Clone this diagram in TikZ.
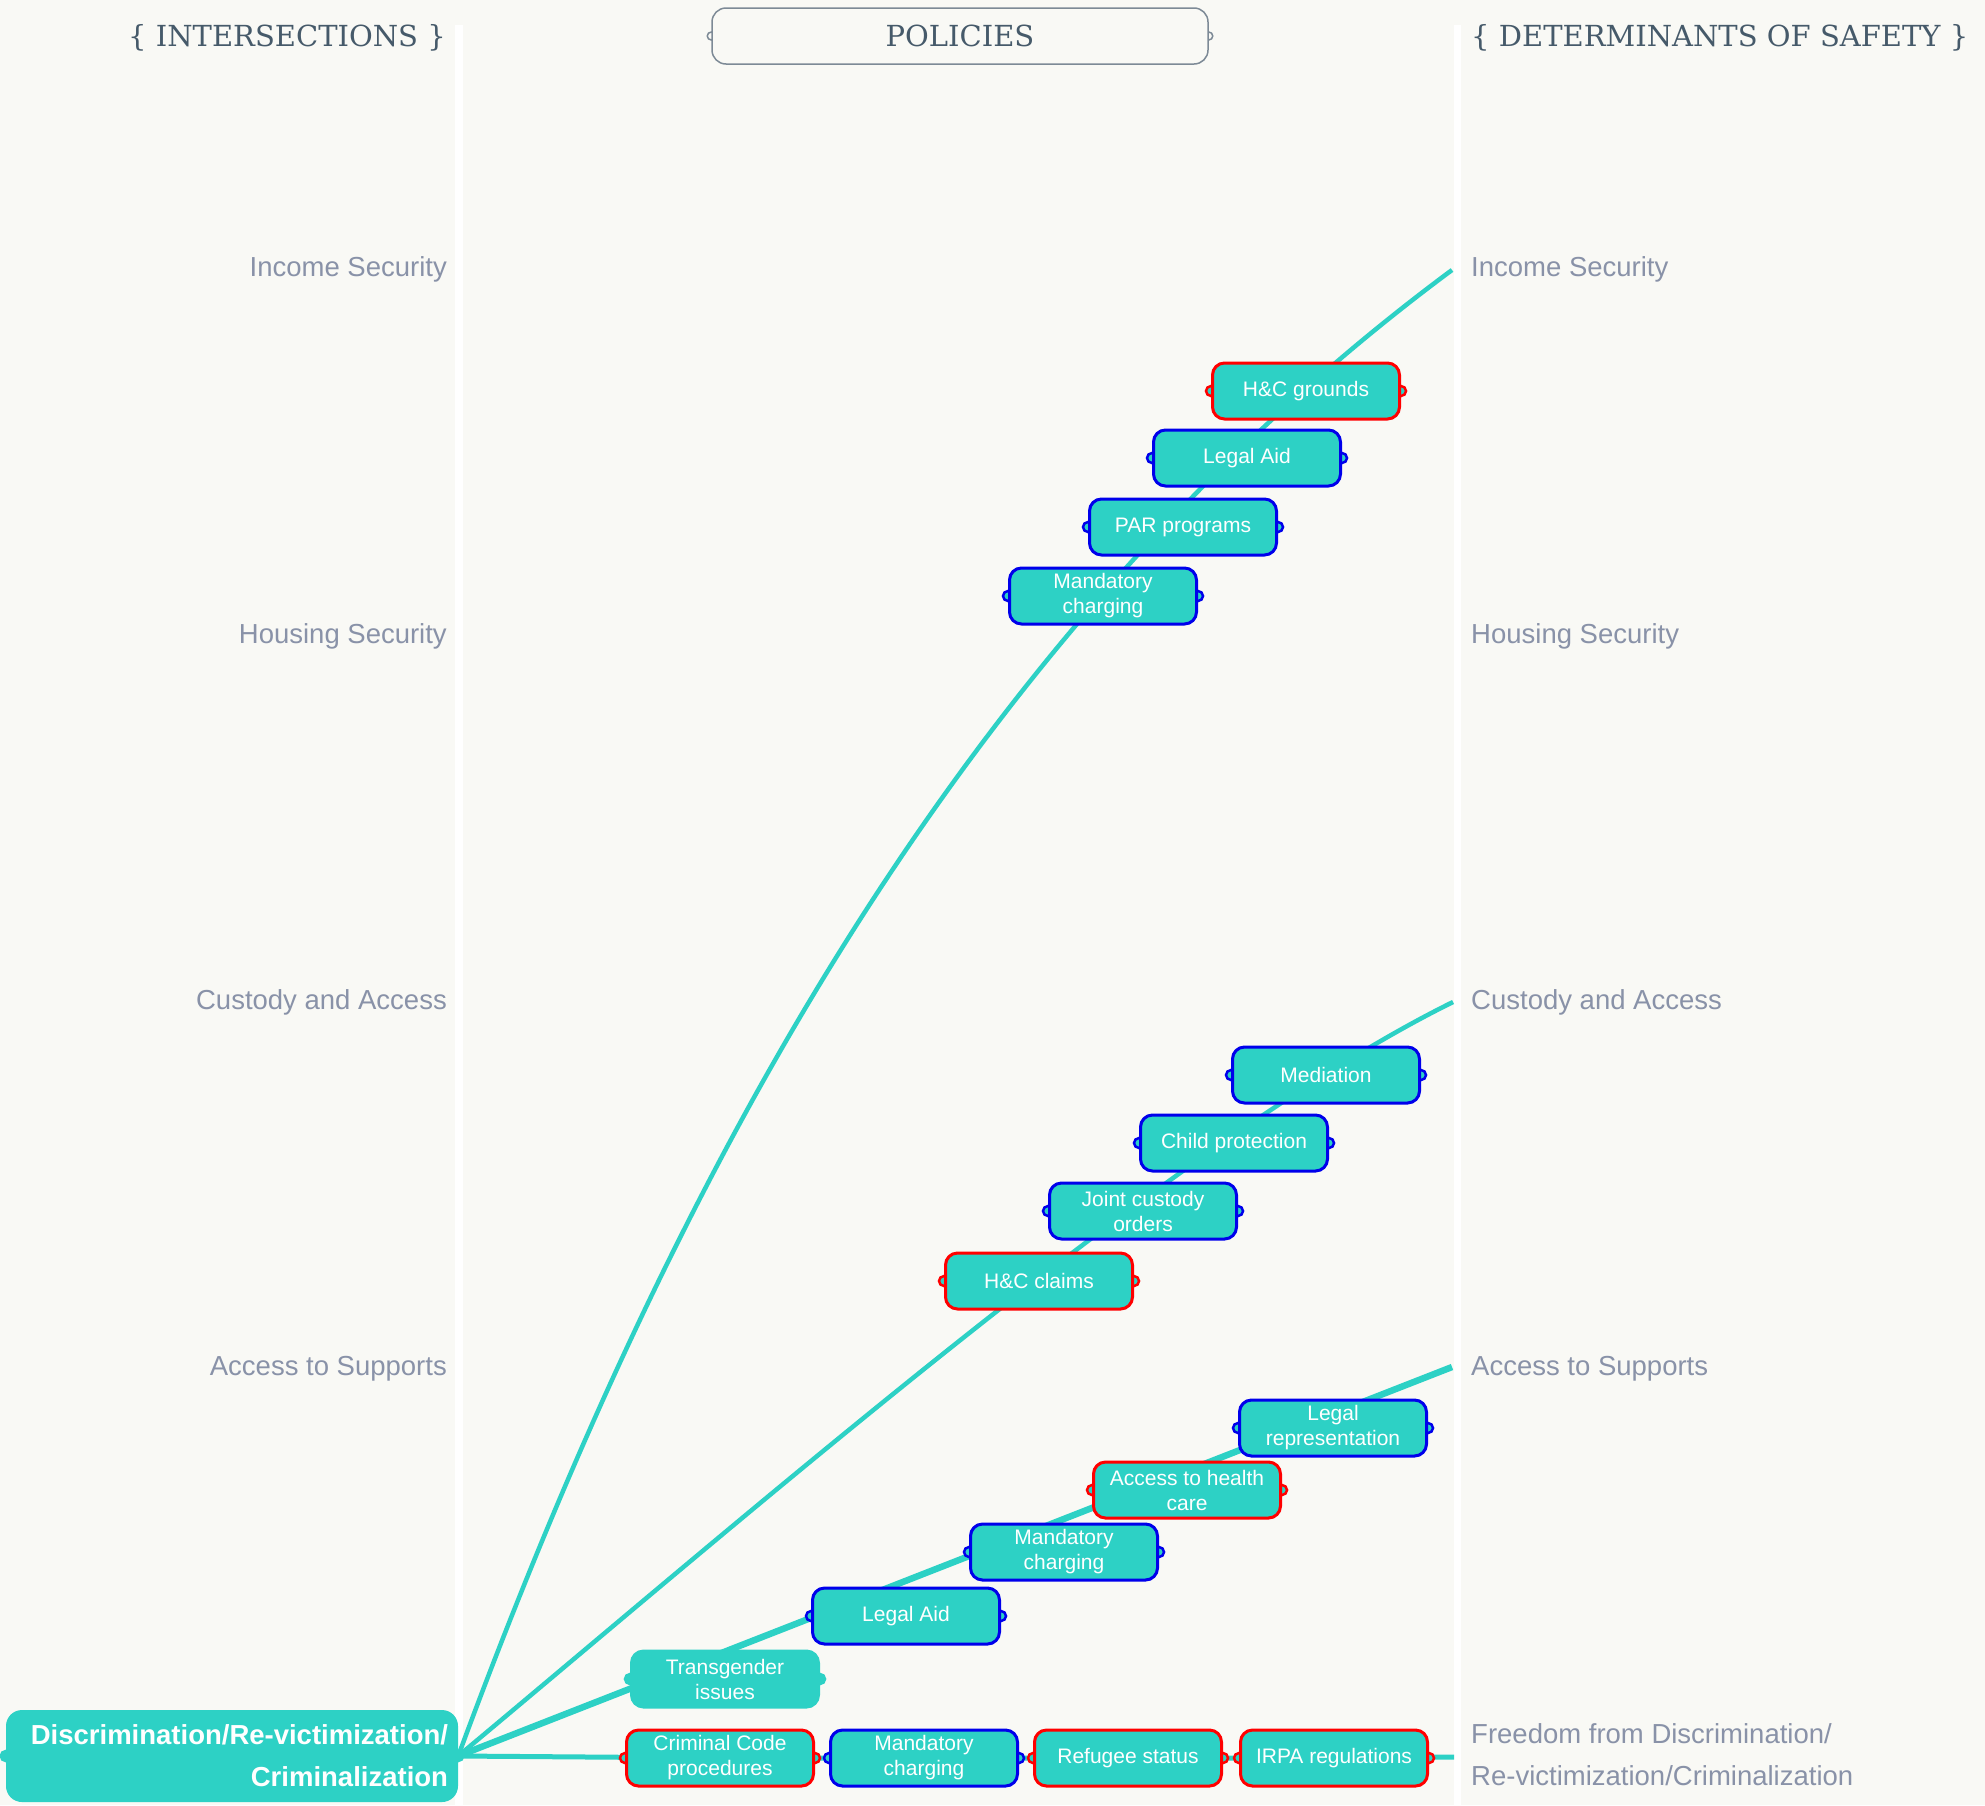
\documentclass[tikz,border=0pt]{standalone}
\usepackage{fontspec}
\setmainfont{Liberation Sans}
\newfontfamily\slabfont{DejaVu Serif}
\usepackage{tikz}

\definecolor{paper}{RGB}{249,249,245}
\definecolor{mapteal}{RGB}{45,209,197}
\definecolor{polred}{RGB}{255,0,0}
\definecolor{polblue}{RGB}{0,0,235}
\definecolor{lblgrey}{RGB}{137,146,168}
\definecolor{hdrslate}{RGB}{70,90,106}
\definecolor{framegrey}{RGB}{125,138,150}

\pgfdeclarelayer{bg}
\pgfsetlayers{bg,main}

\tikzset{
  pol/.style={draw=#1, line width=3pt, fill=mapteal, rounded corners=12pt,
    minimum width=187pt, minimum height=56pt, inner sep=0pt, align=center,
    text=white, font=\fontsize{21}{25}\selectfont},
  bump/.style={draw=#1, fill=mapteal, line width=2.5pt},
  branch/.style={draw=mapteal, line width=#1},
  lbl/.style={text=lblgrey, font=\fontsize{27.5}{42}\selectfont, inner sep=0pt},
  hdr/.style={text=hdrslate, font=\slabfont\fontsize{29}{35}\selectfont, inner sep=0pt}
}

\begin{document}
\begin{tikzpicture}[x=1pt,y=-1pt]
\useasboundingbox (0,0) rectangle (1985,1805);

% headers
\node[hdr,anchor=east] (hint) at (446,38) {\{ INTERSECTIONS \}};
\node[hdr,draw=framegrey,fill=paper,line width=1.5pt,rounded corners=14pt,
  minimum width=496pt,minimum height=56pt] (hpol) at (960,36) {POLICIES};
\node[hdr,anchor=west] (hdet) at (1471,38) {\{ DETERMINANTS OF SAFETY \}};

% intersections
\node[lbl,anchor=east] (lInc) at (447,269) {Income Security};
\node[lbl,anchor=east] (lHou) at (447,636) {Housing Security};
\node[lbl,anchor=east] (lCus) at (447,1002) {Custody and Access};
\node[lbl,anchor=east] (lSup) at (447,1369) {Access to Supports};
\node[fill=mapteal,rounded corners=16pt,minimum height=92pt,inner xsep=10pt,
  text width=432pt,align=right,text=white,
  font=\bfseries\fontsize{27.5}{42}\selectfont] (root) at (232,1756)
  {Discrimination/Re-victimization/\\Criminalization};

% determinants
\node[lbl,anchor=west] (rInc) at (1471,269) {Income Security};
\node[lbl,anchor=west] (rHou) at (1471,636) {Housing Security};
\node[lbl,anchor=west] (rCus) at (1471,1002) {Custody and Access};
\node[lbl,anchor=west] (rSup) at (1471,1369) {Access to Supports};
\node[lbl,anchor=west,align=left] (rFree) at (1471,1755)
  {Freedom from Discrimination/\\Re-victimization/Criminalization};

% policies
\node[pol=polred] (hcg) at (1306,391) {H\&C grounds};
\node[pol=polblue] (lai1) at (1247,458) {Legal Aid};
\node[pol=polblue] (par) at (1183,527) {PAR programs};
\node[pol=polblue] (man1) at (1103,596) {Mandatory\\charging};

\node[pol=polblue] (med) at (1326,1075) {Mediation};
\node[pol=polblue] (chp) at (1234,1143) {Child protection};
\node[pol=polblue] (jco) at (1143,1211) {Joint custody\\orders};
\node[pol=polred] (hcc) at (1039,1281) {H\&C claims};

\node[pol=polblue] (lrp) at (1333,1428) {Legal\\representation};
\node[pol=polred] (ahc) at (1187,1490) {Access to health\\care};
\node[pol=polblue] (man2) at (1064,1552) {Mandatory\\charging};
\node[pol=polblue] (lai2) at (906,1616) {Legal Aid};
\node[pol=mapteal] (trg) at (725,1679) {Transgender\\issues};

\node[pol=polred] (ccp) at (720,1758) {Criminal Code\\procedures};
\node[pol=polblue] (man3) at (924,1758) {Mandatory\\charging};
\node[pol=polred] (ref) at (1128,1758) {Refugee status};
\node[pol=polred] (irp) at (1334,1758) {IRPA regulations};

% connectors (under the boxes)
\begin{pgfonlayer}{bg}
\fill[paper] (0,0) rectangle (1985,1805);
\fill[white] (455,25) rectangle (463,1805);
\fill[white] (1454,25) rectangle (1461,1805);
\coordinate (incEnd) at (1452,270);
\coordinate (cusEnd) at (1453,1002);
\coordinate (supEnd) at (1452,1367);
\coordinate (freEnd) at (1454,1757);
\draw[branch=4.5pt] (root.east) .. controls (666,1192) and (958,636) .. (incEnd);
\draw[branch=4.5pt] (root.east) .. controls (765,1500) and (1183,1135) .. (cusEnd);
\draw[branch=6.5pt] (root.east) -- (supEnd);
\draw[branch=5pt] (root.east) -- (ccp) -- (man3) -- (ref) -- (irp) -- (freEnd);
\foreach \n/\c in {hcg/polred,lai1/polblue,par/polblue,man1/polblue,
    med/polblue,chp/polblue,jco/polblue,hcc/polred,
    lrp/polblue,ahc/polred,man2/polblue,lai2/polblue,trg/mapteal,
    ccp/polred,man3/polblue,ref/polred,irp/polred,root/mapteal}
  \draw[bump=\c] (\n.west) circle (5pt) (\n.east) circle (5pt);
\draw[draw=framegrey,fill=paper,line width=1.5pt] (hpol.west) circle (4pt) (hpol.east) circle (4pt);
\end{pgfonlayer}
\end{tikzpicture}
\end{document}
